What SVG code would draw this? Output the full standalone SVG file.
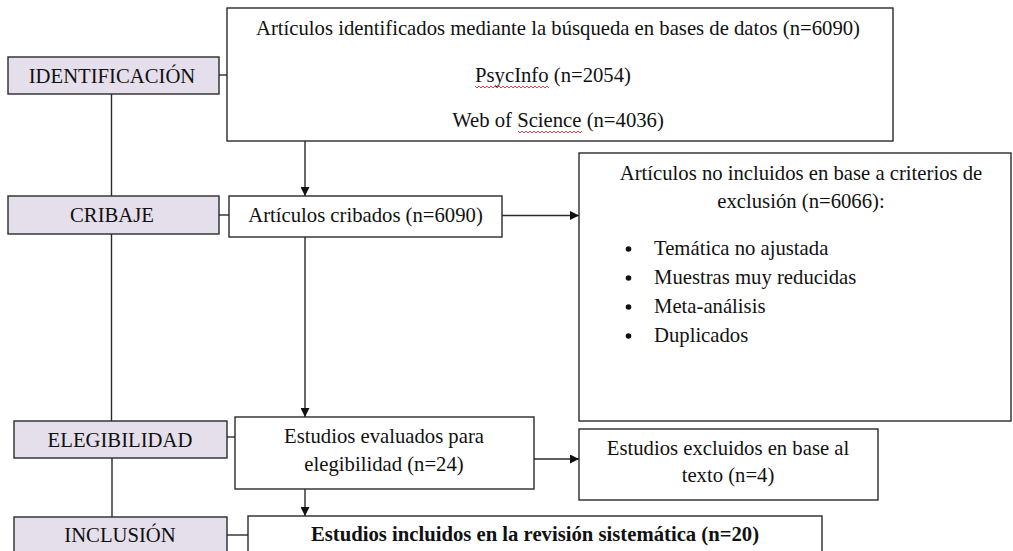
<svg xmlns="http://www.w3.org/2000/svg" width="1013" height="551" viewBox="0 0 1013 551">
<defs>
<style>
.stage{fill:#e5dfec;stroke:#2a2a2a;stroke-width:1.4}
.box{fill:#ffffff;stroke:#2a2a2a;stroke-width:1.4}
.ln{fill:none;stroke:#2a2a2a;stroke-width:1.4}
text{font-family:"Liberation Serif","Times New Roman",serif;font-size:20.7px;fill:#111}
.c{text-anchor:middle}
.b{font-weight:bold}
.wavy{fill:none;stroke:#e03030;stroke-width:0.9}
</style>
<marker id="ah" viewBox="0 0 10 10" refX="10" refY="5" markerWidth="10" markerHeight="9" markerUnits="userSpaceOnUse" orient="auto">
<path d="M0,0 L10,5 L0,10 Z" fill="#111"/>
</marker>
</defs>
<rect width="1013" height="551" fill="#ffffff"/>

<g id="connectors">
<line class="ln" x1="111.5" y1="94" x2="111.5" y2="196"/>
<line class="ln" x1="111.5" y1="234" x2="111.5" y2="421"/>
<line class="ln" x1="112" y1="458" x2="112" y2="517"/>
<line class="ln" x1="219" y1="75" x2="227" y2="75"/>
<line class="ln" x1="219" y1="215" x2="229" y2="215"/>
<line class="ln" x1="227" y1="437" x2="235" y2="437"/>
<line class="ln" x1="227" y1="535" x2="248" y2="535"/>
<line class="ln" x1="305" y1="141" x2="305" y2="196" marker-end="url(#ah)"/>
<line class="ln" x1="305" y1="237" x2="305" y2="417" marker-end="url(#ah)"/>
<line class="ln" x1="305" y1="489" x2="305" y2="516" marker-end="url(#ah)"/>
<line class="ln" x1="502" y1="215.5" x2="579" y2="215.5" marker-end="url(#ah)"/>
<line class="ln" x1="534" y1="459" x2="579" y2="459" marker-end="url(#ah)"/>
</g>

<g id="stage-identificacion">
<rect class="stage" x="8" y="57" width="211" height="37"/>
<text class="c" x="112" y="83">IDENTIFICACIÓN</text>
</g>
<g id="stage-cribaje">
<rect class="stage" x="8" y="196" width="211" height="38"/>
<text class="c" x="112" y="222">CRIBAJE</text>
</g>
<g id="stage-elegibilidad">
<rect class="stage" x="14" y="421" width="213" height="37"/>
<text class="c" x="120" y="447">ELEGIBILIDAD</text>
</g>
<g id="stage-inclusion">
<rect class="stage" x="14" y="517" width="213" height="40"/>
<text class="c" x="120" y="542">INCLUSIÓN</text>
</g>

<g id="identificados">
<rect class="box" x="227" y="8" width="666" height="133"/>
<text class="c" x="558" y="35">Artículos identificados mediante la búsqueda en bases de datos (n=6090)</text>
<text class="c" x="553" y="82">PsycInfo (n=2054)</text>
<text class="c" x="558" y="127">Web of Science (n=4036)</text>
<path class="wavy" d="M475,86 l2,2 l2,-2 l2,2 l2,-2 l2,2 l2,-2 l2,2 l2,-2 l2,2 l2,-2 l2,2 l2,-2 l2,2 l2,-2 l2,2 l2,-2 l2,2 l2,-2 l2,2 l2,-2 l2,2 l2,-2 l2,2 l2,-2 l2,2 l2,-2 l2,2 l2,-2 l2,2 l2,-2 l2,2 l2,-2 l2,2 l2,-2 l2,2 l2,-2 l2,2"/>
<path class="wavy" d="M518,131 l2,2 l2,-2 l2,2 l2,-2 l2,2 l2,-2 l2,2 l2,-2 l2,2 l2,-2 l2,2 l2,-2 l2,2 l2,-2 l2,2 l2,-2 l2,2 l2,-2 l2,2 l2,-2 l2,2 l2,-2 l2,2 l2,-2 l2,2 l2,-2 l2,2 l2,-2 l2,2 l2,-2 l2,2 l2,-2"/>
</g>

<g id="cribados">
<rect class="box" x="229" y="196" width="273" height="41"/>
<text class="c" x="365.5" y="222">Artículos cribados (n=6090)</text>
</g>

<g id="no-incluidos">
<rect class="box" x="579" y="153" width="432" height="268"/>
<text class="c" x="801" y="180">Artículos no incluidos en base a criterios de</text>
<text class="c" x="801" y="208">exclusión (n=6066):</text>
<circle cx="628.5" cy="249" r="2.8" fill="#111"/>
<circle cx="628.5" cy="278" r="2.8" fill="#111"/>
<circle cx="628.5" cy="307" r="2.8" fill="#111"/>
<circle cx="628.5" cy="336" r="2.8" fill="#111"/>
<text x="654" y="255">Temática no ajustada</text>
<text x="654" y="284">Muestras muy reducidas</text>
<text x="654" y="313">Meta-análisis</text>
<text x="654" y="342">Duplicados</text>
</g>

<g id="evaluados">
<rect class="box" x="235" y="417" width="299" height="72"/>
<text class="c" x="384" y="443">Estudios evaluados para</text>
<text class="c" x="384" y="471">elegibilidad (n=24)</text>
</g>

<g id="excluidos">
<rect class="box" x="579" y="429" width="299" height="71"/>
<text class="c" x="728" y="455">Estudios excluidos en base al</text>
<text class="c" x="728" y="482">texto (n=4)</text>
</g>

<g id="incluidos">
<rect class="box" x="248" y="516" width="574" height="45"/>
<text class="c b" x="535" y="541">Estudios incluidos en la revisión sistemática (n=20)</text>
</g>
</svg>
